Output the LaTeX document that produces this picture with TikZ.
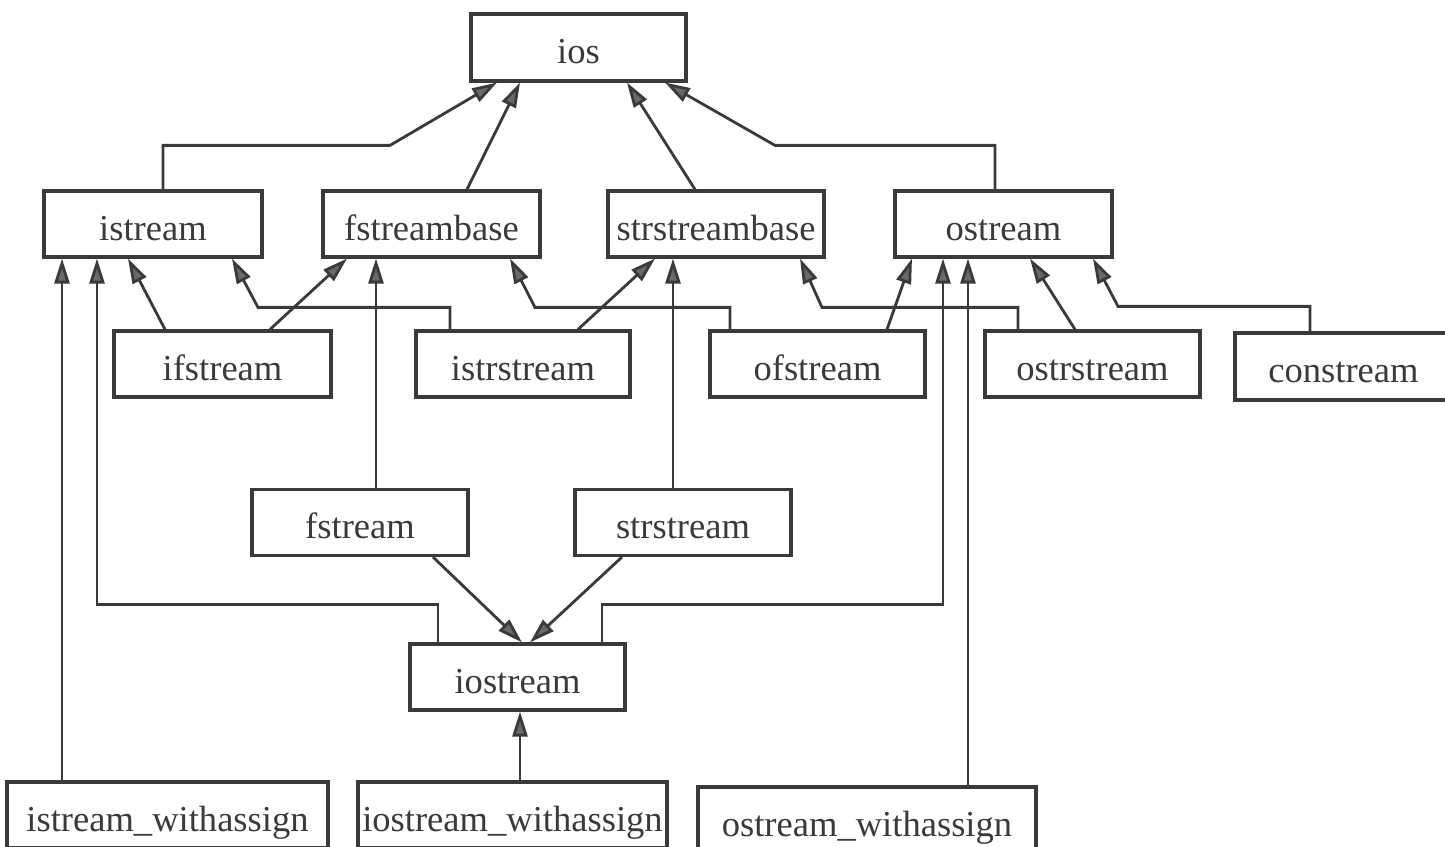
\documentclass[tikz,border=0pt]{standalone}
\usepackage{fontspec}
\setmainfont{Liberation Serif}
\usetikzlibrary{arrows.meta}
\definecolor{inkgray}{RGB}{58,58,58}
\definecolor{tipgray}{RGB}{105,105,105}
\tikzset{
  cls/.style={shape=rectangle, draw=inkgray, line width=0.9pt, text=inkgray,
    minimum width=2.16cm, minimum height=0.66cm, inner sep=0pt,
    text height=0.33cm, text depth=0pt,
    font=\fontsize{10.4}{12}\selectfont},
  inh/.style={draw=inkgray, line width=0.8pt,
    -{Triangle[length=0.25cm, width=0.15cm, fill=tipgray]}}
}
\begin{document}
\begin{tikzpicture}
	\useasboundingbox (0, 0) rectangle (14.45, 8.47);

	% Class boxes:

	\node[cls, minimum width=2.15cm, minimum height=0.67cm] (ios) at (5.785, 7.995) {ios};
	\node[cls, minimum width=2.18cm] (istream) at (1.53, 6.23) {istream};
	\node[cls, minimum width=2.17cm] (fstreambase) at (4.315, 6.23) {fstreambase};
	\node[cls] (strstreambase) at (7.16, 6.23) {strstreambase};
	\node[cls, minimum width=2.17cm] (ostream) at (10.035, 6.23) {ostream};
	\node[cls, minimum width=2.17cm] (ifstream) at (2.225, 4.83) {ifstream};
	\node[cls, minimum width=2.14cm] (istrstream) at (5.23, 4.83) {istrstream};
	\node[cls, minimum width=2.15cm] (ofstream) at (8.175, 4.83) {ofstream};
	\node[cls, minimum width=2.15cm] (ostrstream) at (10.925, 4.83) {ostrstream};
	\node[cls, minimum width=2.17cm, minimum height=0.67cm] (constream) at (13.435, 4.805) {constream};
	\node[cls] (fstream) at (3.6, 3.245) {fstream};
	\node[cls] (strstream) at (6.83, 3.245) {strstream};
	\node[cls, minimum width=2.15cm] (iostream) at (5.175, 1.7) {iostream};
	\node[cls, minimum width=3.21cm] (istream_wa) at (1.675, 0.32) {istream\_withassign};
	\node[cls, minimum width=3.09cm] (iostream_wa) at (5.125, 0.32) {iostream\_withassign};
	\node[cls, minimum width=3.38cm] (ostream_wa) at (8.67, 0.27) {ostream\_withassign};

	% Inheritance arrows, child to parent:

	\draw[inh] ([xshift=1mm]istream.north) -- ++(0, 0.44) -- ++(2.27, 0) -- ([xshift=-8.15mm]ios.south);
	\draw[inh] ([xshift=3.55mm]fstreambase.north) -- ([xshift=-5.85mm]ios.south);
	\draw[inh] ([xshift=-2.1mm]strstreambase.north) -- ([xshift=4.85mm]ios.south);
	\draw[inh] ([xshift=-0.85mm]ostream.north) -- ++(0, 0.44) -- ++(-2.2, 0) -- ([xshift=8.65mm]ios.south);

	\draw[inh] ([xshift=-5.75mm]ifstream.north) -- ([xshift=-2.5mm]istream.south);
	\draw[inh] ([xshift=4.75mm]ifstream.north) -- ([xshift=-8.45mm]fstreambase.south);
	\draw[inh] ([xshift=-7.3mm]istrstream.north) -- ++(0, 0.22) -- ++(-1.92, 0) -- ([xshift=7.9mm]istream.south);
	\draw[inh] ([xshift=5.5mm]istrstream.north) -- ([xshift=-6.1mm]strstreambase.south);
	\draw[inh] ([xshift=-8.75mm]ofstream.north) -- ++(0, 0.22) -- ++(-1.95, 0) -- ([xshift=7.85mm]fstreambase.south);
	\draw[inh] ([xshift=6.95mm]ofstream.north) -- ([xshift=-9.15mm]ostream.south);
	\draw[inh] ([xshift=-7.45mm]ostrstream.north) -- ++(0, 0.22) -- ++(-1.96, 0) -- ([xshift=8.4mm]strstreambase.south);
	\draw[inh] ([xshift=-1.75mm]ostrstream.north) -- ([xshift=2.65mm]ostream.south);
	\draw[inh] ([xshift=-3.35mm]constream.north) -- ++(0, 0.25) -- ++(-1.92, 0) -- ([xshift=8.95mm]ostream.south);

	\draw[inh] ([xshift=1.6mm]fstream.north) coordinate (fs) -- (fs |- fstreambase.south);
	\draw[inh] ([xshift=-1mm]strstream.north) coordinate (ss) -- (ss |- strstreambase.south);
	\draw[inh] ([xshift=7.3mm]fstream.south) -- ([xshift=0.45mm]iostream.north);
	\draw[inh] ([xshift=-6.1mm]strstream.south) -- ([xshift=1.25mm]iostream.north);
	\draw[inh] ([xshift=-7.95mm]iostream.north) -- ++(0, 0.38) -| ([xshift=-5.6mm]istream.south);
	\draw[inh] ([xshift=8.45mm]iostream.north) -- ++(0, 0.38) -| ([xshift=-6.05mm]ostream.south);

	\draw[inh] ([xshift=-10.55mm]istream_wa.north) coordinate (iw) -- (iw |- istream.south);
	\draw[inh] ([xshift=0.75mm]iostream_wa.north) coordinate (iow) -- (iow |- iostream.south);
	\draw[inh] ([xshift=10.1mm]ostream_wa.north) coordinate (ow) -- (ow |- ostream.south);
\end{tikzpicture}
\end{document}
